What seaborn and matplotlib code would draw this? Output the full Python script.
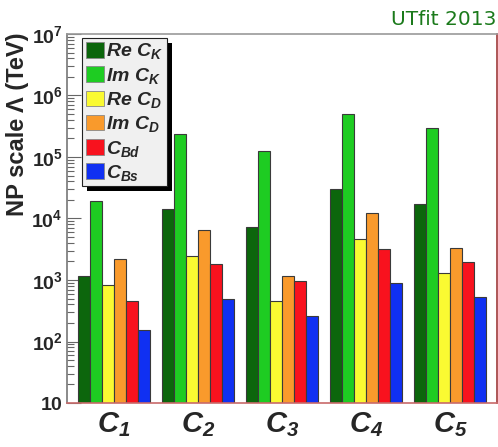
import matplotlib
matplotlib.use("Agg")
import matplotlib.pyplot as plt
import matplotlib.patches as mpatches
from matplotlib.transforms import IdentityTransform
import seaborn as sns
import pandas as pd
import numpy as np

# ---- data ----
categories = ["C1", "C2", "C3", "C4", "C5"]
series = ["Re CK", "Im CK", "Re CD", "Im CD", "CBd", "CBs"]
re_ck = [1160, 14100, 7360, 30200, 17400]
im_ck = [19300, 234000, 125000, 506000, 293000]
re_cd = [820, 2480, 450, 4640, 1285]
im_cd = [2170, 6430, 1150, 12300, 3360]
c_bd = [450, 1840, 950, 3230, 1940]
c_bs = [156, 497, 260, 893, 530]
tick_labels = [r"$\mathit{C}_{\mathit{1}}$", r"$\mathit{C}_{\mathit{2}}$", r"$\mathit{C}_{\mathit{3}}$",
               r"$\mathit{C}_{\mathit{4}}$", r"$\mathit{C}_{\mathit{5}}$"]
legend_labels = [r"$\mathit{Re\ C}_{\mathit{K}}$", r"$\mathit{Im\ C}_{\mathit{K}}$",
                 r"$\mathit{Re\ C}_{\mathit{D}}$", r"$\mathit{Im\ C}_{\mathit{D}}$",
                 r"$\mathit{C}_{\mathit{Bd}}$", r"$\mathit{C}_{\mathit{Bs}}$"]
colors = ["#0c660c", "#1ecc22", "#fafa32", "#f99a2c", "#f8121e", "#1030f2"]

values = [re_ck, im_ck, re_cd, im_cd, c_bd, c_bs]
df = pd.DataFrame([
    {"cat": c, "series": s, "val": v[i]}
    for s, v in zip(series, values) for i, c in enumerate(categories)
])

sns.set_style("white")
plt.rcParams["font.family"] = ["Liberation Sans", "DejaVu Sans"]
plt.rcParams["mathtext.fontset"] = "custom"
plt.rcParams["mathtext.it"] = "Liberation Sans:bold:italic"
plt.rcParams["mathtext.rm"] = "Liberation Sans:bold:italic"
plt.rcParams["mathtext.bf"] = "Liberation Sans:bold"

fig = plt.figure(figsize=(4.98, 4.47), dpi=100)
ax = fig.add_axes([67 / 498, 44 / 447, 430 / 498, 369 / 447])
ax.set_yscale("log")

sns.barplot(data=df, x="cat", y="val", hue="series", hue_order=series,
            palette=colors, saturation=1, width=72 / 84, dodge=True, ax=ax,
            edgecolor="#3a3a3a", linewidth=0.8, legend=False, errorbar=None)

ax.set_xlim(-0.56, 4.56)
ax.set_ylim(10, 1e7)
ax.set_xlabel("")
ax.set_ylabel("")

# x tick labels
ax.set_xticks(range(len(categories)))
ax.set_xticklabels(tick_labels, fontsize=21)
ax.tick_params(axis="x", length=0, pad=5)

# y ticks
majors = [10, 100, 1e3, 1e4, 1e5, 1e6, 1e7]
ylabels = [r"$\mathbf{10}$"] + [r"$\mathbf{10^{%d}}$" % k for k in range(2, 8)]
ax.set_yticks(majors)
ax.set_yticklabels(ylabels, fontsize=14)
ax.yaxis.set_minor_locator(matplotlib.ticker.LogLocator(base=10, subs=np.arange(2, 10)))
ax.yaxis.set_minor_formatter(matplotlib.ticker.NullFormatter())
ax.tick_params(axis="y", which="major", direction="in", length=10, width=0.8,
               color="#666666", pad=3, left=True)
ax.tick_params(axis="y", which="minor", direction="in", length=5, width=0.8,
               color="#666666", left=True)

for side, col in [("left", "#777777"), ("top", "#999999"), ("right", "#a03a3a"), ("bottom", "#c86a6a")]:
    ax.spines[side].set_visible(True)
    ax.spines[side].set_color(col)
    ax.spines[side].set_linewidth(1.2)

# legend
handles = [mpatches.Patch(facecolor=c, edgecolor="#888888", linewidth=0.6) for c in colors]
leg = ax.legend(handles, legend_labels, loc="upper left",
                bbox_to_anchor=(15 / 430, 1 - 4 / 369), borderaxespad=0,
                fontsize=14, frameon=True, fancybox=False, framealpha=1,
                handlelength=0.95, handleheight=0.85, handletextpad=0.1,
                labelspacing=0.22, borderpad=0.18)
leg.get_frame().set_facecolor("#f0f0f0")
leg.get_frame().set_edgecolor("#222222")
leg.get_frame().set_linewidth(0.8)
leg.set_zorder(6)

fig.canvas.draw()
bb = leg.get_window_extent()
shadow = mpatches.Rectangle((bb.x0 + 5, bb.y0 - 5), bb.width, bb.height,
                            transform=IdentityTransform(), facecolor="black",
                            edgecolor="none", zorder=5.5, clip_on=False)
ax.add_patch(shadow)

fig.text(18 / 498, 1 - 33 / 447, "NP scale Λ (TeV)", rotation=90, ha="center",
         va="top", fontsize=17, fontweight="bold")
fig.text(496 / 498, 1 - 25 / 447, "UTfit 2013", ha="right", va="baseline",
         fontsize=14.5, color="#1b7a1b", family=["DejaVu Sans"])

fig.savefig("out.png", dpi=100)
